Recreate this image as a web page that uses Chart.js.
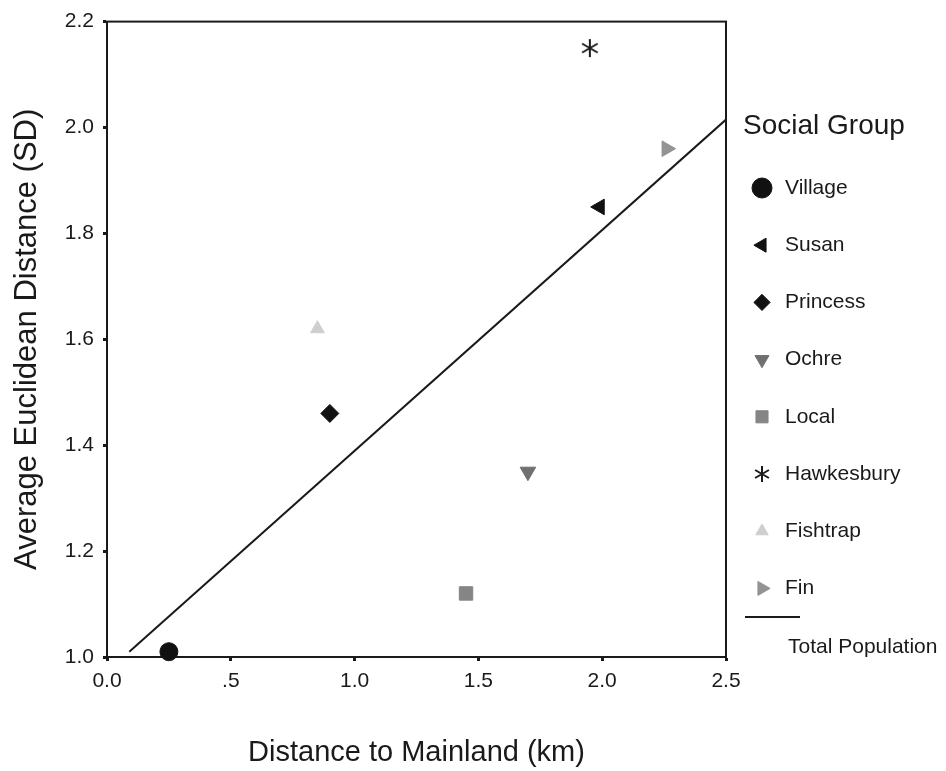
<!DOCTYPE html>
<html>
<head>
<meta charset="utf-8">
<script src="https://cdn.jsdelivr.net/npm/chart.js@4.4.0/dist/chart.umd.min.js"></script>
<style>
  html, body { margin: 0; padding: 0; background: #fff; }
  canvas { display: block; }
</style>
</head>
<body>
<canvas id="chart" width="946" height="771"></canvas>
<script>
// data
const groups = ['Village', 'Susan', 'Princess', 'Ochre', 'Local', 'Hawkesbury', 'Fishtrap', 'Fin'];
const distMainland = [0.25, 1.99, 0.90, 1.70, 1.45, 1.95, 0.85, 2.26];
const avgDistance = [1.01, 1.85, 1.46, 1.35, 1.12, 2.15, 1.62, 1.96];
const fitX = [0.09, 2.5];
const fitY = [1.01, 2.015];
const xTicks = [0, 0.5, 1.0, 1.5, 2.0, 2.5];
const xTickLabels = ['0.0', '.5', '1.0', '1.5', '2.0', '2.5'];
const yTicks = [1.0, 1.2, 1.4, 1.6, 1.8, 2.0, 2.2];
const yTickLabels = ['1.0', '1.2', '1.4', '1.6', '1.8', '2.0', '2.2'];

const FONT = '"Liberation Sans", Arial, Helvetica, sans-serif';
const INK = '#1a1a1a';

function asterisk(size) {
  const c = document.createElement('canvas');
  c.width = c.height = size;
  const g = c.getContext('2d');
  g.strokeStyle = INK;
  g.lineWidth = 2;
  const m = size / 2, r = size / 2 - 1;
  g.beginPath();
  for (let k = 0; k < 3; k++) {
    const a = Math.PI / 2 + k * Math.PI / 3;
    g.moveTo(m + Math.cos(a) * r, m - Math.sin(a) * r);
    g.lineTo(m - Math.cos(a) * r, m + Math.sin(a) * r);
  }
  g.stroke();
  return c;
}

// marker look per group
const markers = [
  { style: 'circle', color: '#111', radius: 9, rot: 0 },
  { style: 'triangle', color: '#111', radius: 9, rot: -90 },
  { style: 'rectRot', color: '#111', radius: 9, rot: 0 },
  { style: 'triangle', color: '#707070', radius: 9, rot: 180 },
  { style: 'rect', color: '#858585', radius: 9.5, rot: 0 },
  { style: asterisk(20), color: INK, radius: 10, rot: 0 },
  { style: 'triangle', color: '#cfcfcf', radius: 8, rot: 0 },
  { style: 'triangle', color: '#939393', radius: 9, rot: 90 }
];
const legendMarkers = markers.map((m, i) => i === 5 ? Object.assign({}, m, { style: asterisk(18) }) : m);

const datasets = groups.map((g, i) => ({
  type: 'scatter',
  label: g,
  data: [{ x: distMainland[i], y: avgDistance[i] }],
  pointStyle: markers[i].style,
  pointRadius: markers[i].radius,
  pointRotation: markers[i].rot,
  backgroundColor: markers[i].color,
  borderColor: markers[i].color,
  borderWidth: 1,
  clip: false
}));
datasets.push({
  type: 'line',
  label: 'Total Population',
  data: fitX.map((x, i) => ({ x: x, y: fitY[i] })),
  borderColor: INK,
  borderWidth: 2,
  pointRadius: 0,
  fill: false
});

const frame = {
  id: 'frame',
  beforeDatasetsDraw(chart) {
    const { ctx, chartArea: a } = chart;
    ctx.save();
    ctx.strokeStyle = INK;
    ctx.lineWidth = 2;
    ctx.strokeRect(a.left, a.top, a.right - a.left, a.bottom - a.top);
    ctx.restore();
  }
};

const sideLegend = {
  id: 'sideLegend',
  afterDraw(chart) {
    const ctx = chart.ctx;
    ctx.save();
    ctx.fillStyle = INK;
    ctx.textBaseline = 'middle';
    ctx.font = '28px ' + FONT;
    ctx.fillText('Social Group', 743, 126);
    ctx.font = '21px ' + FONT;
    groups.forEach((g, i) => {
      const y = 188 + i * 57.2;
      const m = legendMarkers[i];
      ctx.fillStyle = m.color;
      ctx.strokeStyle = m.color;
      ctx.lineWidth = 1;
      const r = i === 0 ? 10 : m.radius * 0.9;
      Chart.helpers.drawPoint(ctx, { pointStyle: m.style, radius: r, rotation: m.rot, borderWidth: 1 }, 762, y);
      ctx.fillStyle = INK;
      ctx.fillText(g, 785, y);
    });
    const line = chart.data.datasets[groups.length];
    ctx.strokeStyle = INK;
    ctx.lineWidth = 2;
    ctx.beginPath();
    ctx.moveTo(745, 617);
    ctx.lineTo(800, 617);
    ctx.stroke();
    ctx.fillText(line.label, 788, 647);
    ctx.restore();
  }
};

new Chart(document.getElementById('chart'), {
  data: { datasets: datasets },
  options: {
    responsive: false,
    animation: false,
    layout: { padding: { top: 20, right: 220, left: 0, bottom: 0 } },
    plugins: { legend: { display: false }, tooltip: { enabled: false } },
    scales: {
      x: {
        type: 'linear',
        min: 0,
        max: 2.5,
        afterBuildTicks: s => { s.ticks = xTicks.map(v => ({ value: v })); },
        afterFit: s => { s.height = 114; },
        ticks: {
          callback: (v, i) => xTickLabels[i],
          font: { family: FONT, size: 21 },
          color: INK,
          padding: 8,
          maxRotation: 0
        },
        grid: { drawOnChartArea: false, drawTicks: true, tickLength: 4, tickWidth: 3, tickColor: INK },
        border: { display: true, color: INK, width: 2 },
        title: {
          display: true,
          text: 'Distance to Mainland (km)',
          font: { family: FONT, size: 29 },
          color: INK,
          padding: { top: 0, bottom: 1 }
        }
      },
      y: {
        type: 'linear',
        min: 1.0,
        max: 2.2,
        afterBuildTicks: s => { s.ticks = yTicks.map(v => ({ value: v })); },
        afterFit: s => { s.width = 107; },
        ticks: {
          callback: (v, i) => yTickLabels[i],
          font: { family: FONT, size: 21 },
          color: INK,
          padding: 9
        },
        grid: { drawOnChartArea: false, drawTicks: true, tickLength: 4, tickWidth: 3, tickColor: INK },
        border: { display: true, color: INK, width: 2 },
        title: {
          display: true,
          text: 'Average Euclidean Distance (SD)',
          font: { family: FONT, size: 31 },
          color: INK,
          padding: { top: 9, bottom: 0 }
        }
      }
    }
  },
  plugins: [frame, sideLegend]
});
</script>
</body>
</html>
